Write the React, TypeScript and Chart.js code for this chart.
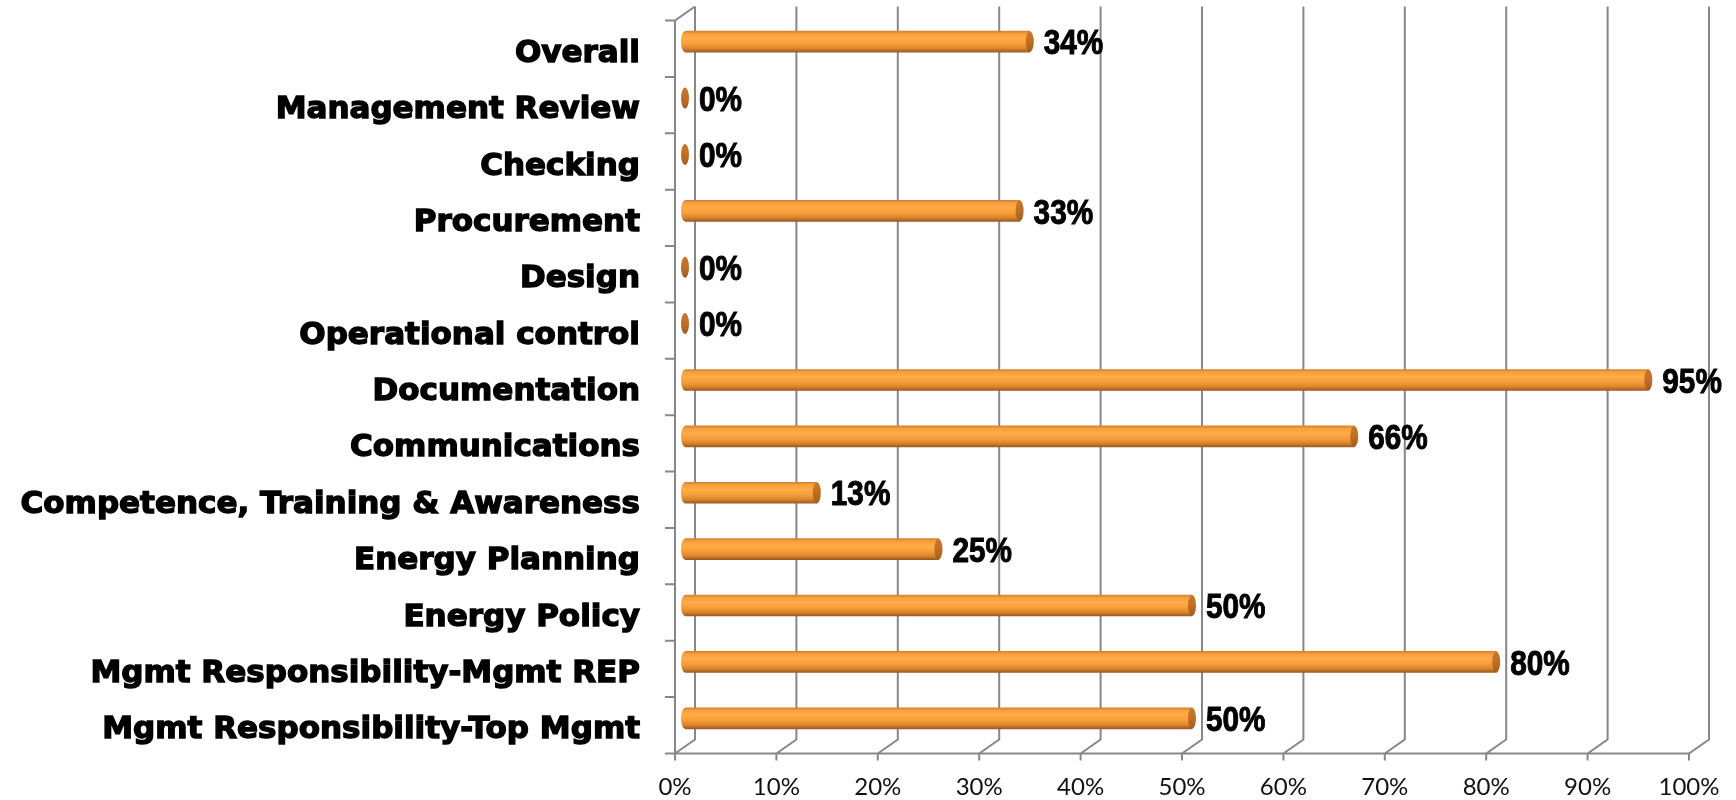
import React, { useEffect, useRef } from "react";
import { Chart, registerables } from "chart.js";

Chart.register(...registerables);

const categories = [
  "Overall",
  "Management Review",
  "Checking",
  "Procurement",
  "Design",
  "Operational control",
  "Documentation",
  "Communications",
  "Competence, Training & Awareness",
  "Energy Planning",
  "Energy Policy",
  "Mgmt Responsibility-Mgmt REP",
  "Mgmt Responsibility-Top Mgmt",
];

const values = [34, 0, 0, 33, 0, 0, 95, 66, 13, 25, 50, 80, 50];

const xTickValues = [0, 10, 20, 30, 40, 50, 60, 70, 80, 90, 100];

const DX = 10;
const DY = 7;
const GRID = "#878787";

function barGradient(ctx: CanvasRenderingContext2D, cy: number, h: number) {
  const g = ctx.createLinearGradient(0, cy - h / 2, 0, cy + h / 2);
  g.addColorStop(0, "#D28230");
  g.addColorStop(0.12, "#F79F3E");
  g.addColorStop(0.35, "#FFAC48");
  g.addColorStop(0.6, "#F69E3A");
  g.addColorStop(0.82, "#DA852B");
  g.addColorStop(1, "#9C5A22");
  return g;
}

const wallsPlugin = {
  id: "walls3d",
  beforeDatasetsDraw(chart: any) {
    const { ctx, chartArea: ca, scales } = chart;
    const x = scales.x;
    const y = scales.y;
    ctx.save();
    ctx.strokeStyle = GRID;
    ctx.lineWidth = 2;
    ctx.lineCap = "butt";
    ctx.beginPath();
    xTickValues.forEach((v) => {
      const px = x.getPixelForValue(v);
      ctx.moveTo(px + DX, ca.top - DY);
      ctx.lineTo(px + DX, ca.bottom - DY);
      ctx.lineTo(px - DX, ca.bottom + DY);
      ctx.moveTo(px - DX, ca.bottom + DY);
      ctx.lineTo(px - DX, ca.bottom + DY + 7);
    });
    ctx.moveTo(ca.left - DX - 10, ca.bottom + DY);
    ctx.lineTo(x.getPixelForValue(100) - DX, ca.bottom + DY);
    ctx.moveTo(ca.left + DX, ca.top - DY);
    ctx.lineTo(ca.left - DX, ca.top + DY);
    ctx.lineTo(ca.left - DX, ca.bottom + DY);
    for (let i = 0; i <= categories.length; i++) {
      const yb = y.getPixelForValue(i - 0.5) + DY;
      ctx.moveTo(ca.left - DX - 10, yb);
      ctx.lineTo(ca.left - DX, yb);
    }
    ctx.stroke();
    ctx.restore();
  },
  afterDatasetsDraw(chart: any) {
    const { ctx } = chart;
    const meta = chart.getDatasetMeta(0);
    ctx.save();
    meta.data.forEach((el: any, i: number) => {
      const h = el.height;
      const cy = el.y;
      const rx = 4;
      const ry = h / 2;
      const v = values[i];
      if (v > 0) {
        ctx.beginPath();
        ctx.ellipse(el.base, cy, rx, ry, 0, Math.PI / 2, (3 * Math.PI) / 2);
        ctx.closePath();
        ctx.fillStyle = barGradient(ctx, cy, h);
        ctx.fill();
      }
      const cg = ctx.createLinearGradient(0, cy - ry, 0, cy + ry);
      cg.addColorStop(0, "#C9772A");
      cg.addColorStop(0.5, "#BF6F25");
      cg.addColorStop(1, "#A25D1F");
      ctx.beginPath();
      ctx.ellipse(el.x, cy, rx, ry, 0, 0, Math.PI * 2);
      ctx.fillStyle = cg;
      ctx.fill();
      // data label (condensed bold)
      ctx.save();
      ctx.translate(el.x + 14, cy + 3);
      ctx.scale(0.85, 1);
      ctx.fillStyle = "#000";
      ctx.strokeStyle = "#000";
      ctx.lineWidth = 1;
      ctx.font = 'bold 35px "Liberation Sans", Arial, sans-serif';
      ctx.textAlign = "left";
      ctx.textBaseline = "middle";
      ctx.fillText(`${v}%`, 0, 0);
      ctx.strokeText(`${v}%`, 0, 0);
      ctx.restore();
    });
    ctx.restore();
  },
};

export default function App() {
  const canvasRef = useRef<HTMLCanvasElement | null>(null);

  useEffect(() => {
    const canvas = canvasRef.current;
    if (!canvas) return;
    const chart = new Chart(canvas, {
      type: "bar",
      data: {
        labels: categories,
        datasets: [
          {
            data: values,
            barThickness: 21,
            borderWidth: 0,
            backgroundColor: (c: any) => {
              const ch = c.chart;
              const ys = ch.scales && ch.scales.y;
              if (!ys || !ch.chartArea) return "#F7A03C";
              const cy = ys.getPixelForValue(c.dataIndex);
              return barGradient(ch.ctx, cy, 21);
            },
          },
        ],
      },
      options: {
        indexAxis: "y",
        responsive: false,
        animation: false,
        devicePixelRatio: 1,
        layout: { padding: { top: 13.5, right: 37, bottom: 0, left: 0 } },
        plugins: {
          legend: { display: false },
          tooltip: { enabled: false },
        },
        scales: {
          x: {
            min: 0,
            max: 100,
            grid: { display: false, drawTicks: false },
            border: { display: false },
            ticks: {
              stepSize: 10,
              padding: 26,
              labelOffset: -DX,
              color: "#111",
              font: { family: "Lato, 'Open Sans', sans-serif", size: 24 },
              callback: (v: any) => `${v}%`,
            },
            afterFit: (s: any) => {
              s.height = 53.5;
              s.paddingLeft = 0;
              s.paddingRight = 0;
              s.paddingTop = 0;
              s.paddingBottom = 0;
            },
          },
          y: {
            grid: { display: false, drawTicks: false },
            border: { display: false },
            ticks: {
              padding: 45,
              labelOffset: 12,
              color: "#000",
              textStrokeColor: "#000",
              textStrokeWidth: 1.4,
              font: { family: "'DejaVu Sans', sans-serif", size: 31, weight: "bold" },
            },
            afterFit: (s: any) => {
              s.width = 685;
              s.paddingLeft = 0;
              s.paddingRight = 0;
              s.paddingTop = 0;
              s.paddingBottom = 0;
            },
          },
        },
      },
      plugins: [wallsPlugin],
    });
    return () => chart.destroy();
  }, []);

  return (
    <div style={{ position: "fixed", left: 0, top: 0, width: 1736, height: 800, background: "#fff" }}>
      <canvas ref={canvasRef} width={1736} height={800} />
    </div>
  );
}
